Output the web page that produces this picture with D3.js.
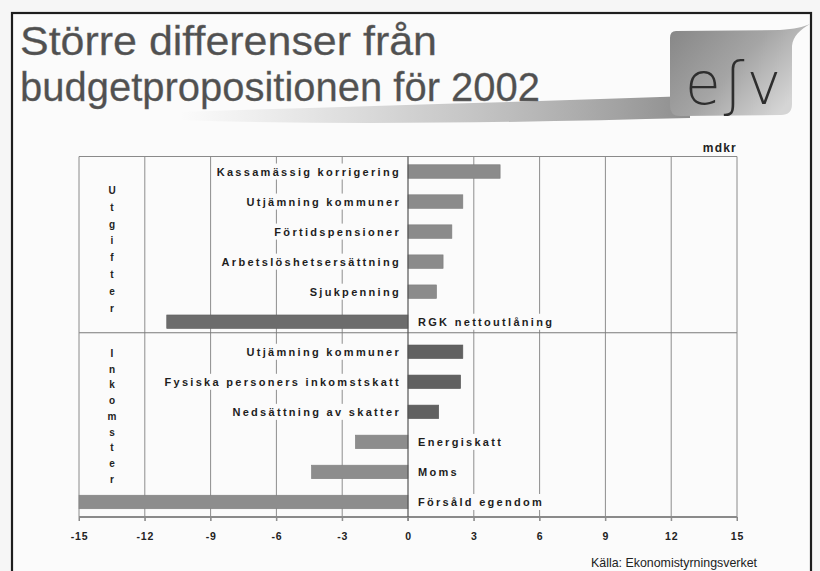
<!DOCTYPE html>
<html><head><meta charset="utf-8">
<script src="https://cdn.jsdelivr.net/npm/d3@7"></script>
<style>
html,body{margin:0;padding:0;background:#f6f6f6;}
svg{display:block;}
</style></head>
<body>
<script>
// ---- data ----
const categories = ["Kassamässig korrigering","Utjämning kommuner","Förtidspensioner","Arbetslöshetsersättning","Sjukpenning","RGK nettoutlåning","Utjämning kommuner","Fysiska personers inkomstskatt","Nedsättning av skatter","Energiskatt","Moms","Försåld egendom"];
const values = [4.2, 2.5, 2.0, 1.6, 1.3, -11.0, 2.5, 2.4, 1.4, -2.4, -4.4, -15];
const groupOf = ["Utgifter","Utgifter","Utgifter","Utgifter","Utgifter","Utgifter","Inkomster","Inkomster","Inkomster","Inkomster","Inkomster","Inkomster"];
const groupNames = ["Utgifter","Inkomster"];
const xTicks = [-15,-12,-9,-6,-3,0,3,6,9,12,15];
const titleLines = ["Större differenser från","budgetpropositionen för 2002"];
const unitLabel = "mdkr";
const sourceLabel = "Källa: Ekonomistyrningsverket";

const W = 820, H = 571;
const svg = d3.select("body").append("svg").attr("width", W).attr("height", H);
const defs = svg.append("defs");

// background & frame
svg.append("rect").attr("width", W).attr("height", H).attr("fill", "#f6f6f6");
svg.append("rect").attr("x", 12).attr("y", 13).attr("width", 799).attr("height", 600)
  .attr("fill", "#fbfbfb").attr("stroke", "#1e1e1e").attr("stroke-width", 2.2);

// title swoosh
const sw = defs.append("linearGradient").attr("id","swoosh").attr("x1","0").attr("x2","1").attr("y1","0").attr("y2","0");
sw.append("stop").attr("offset","0").attr("stop-color","#bdbdbd").attr("stop-opacity",0);
sw.append("stop").attr("offset","0.45").attr("stop-color","#b5b5b5").attr("stop-opacity",0.6);
sw.append("stop").attr("offset","1").attr("stop-color","#8e8e8e").attr("stop-opacity",1);
svg.append("path")
  .attr("d","M180,112 C350,106 530,102 690,96 L690,118 C530,122 350,126 180,120 Z")
  .attr("fill","url(#swoosh)");

// logo box
const lg = defs.append("linearGradient").attr("id","logo").attr("x1","0").attr("x2","1").attr("y1","0").attr("y2","0.6");
lg.append("stop").attr("offset","0").attr("stop-color","#858585");
lg.append("stop").attr("offset","0.55").attr("stop-color","#a5a5a5");
lg.append("stop").attr("offset","1").attr("stop-color","#d5d5d5");
svg.append("path")
  .attr("d","M676,31 L780,30 C795,29 803,27 810,24 C800,30 793,36 792,46 L792,104 Q792,115 781,115 L680,116 Q670,116 670,106 L670,38 Q670,31 676,31 Z")
  .attr("fill","url(#logo)");
svg.append("text").attr("x", 685).attr("y", 104)
  .attr("font-family","'DejaVu Sans', sans-serif").attr("font-weight", 200)
  .attr("font-size", 58).attr("fill","#2e2e2e")
  .attr("textLength", 96).attr("lengthAdjust","spacing")
  .text("eʃv");

// title
const titleWidths = [417, 520];
svg.append("g").selectAll("text").data(titleLines).join("text")
  .attr("x", 20).attr("y", (d,i) => 55 + i*46)
  .attr("font-family","'Liberation Sans', Arial, sans-serif")
  .attr("font-size", 40).attr("fill","#505050")
  .attr("stroke","#707070").attr("stroke-width",0.3)
  .attr("textLength", (d,i) => titleWidths[i]).attr("lengthAdjust","spacingAndGlyphs")
  .text(d => d);

// ---- chart ----
const x = d3.scaleLinear().domain([-15, 15]).range([79, 737]);
const idx = d3.range(categories.length);
const y = d3.scaleBand().domain(idx).range([156.5, 517]).paddingInner(0.55).paddingOuter(0.275);
const bh = y.bandwidth();

const chart = svg.append("g");

// vertical gridlines
chart.append("g").selectAll("line").data(xTicks.filter(t => t !== -15 && t !== 15 && t !== 0)).join("line")
  .attr("x1", d => x(d)).attr("x2", d => x(d))
  .attr("y1", 156.5).attr("y2", 521)
  .attr("stroke","#8d8d8d").attr("stroke-width",1);

// bars
function barColor(i){
  const g = groupOf[i], v = values[i];
  if (g === "Utgifter") return v < 0 ? "#6c6c6c" : "#8b8b8b";
  return v < 0 ? "#8d8d8d" : "#616161";
}
chart.append("g").selectAll("rect").data(idx).join("rect")
  .attr("x", i => x(Math.min(0, values[i])))
  .attr("width", i => Math.abs(x(values[i]) - x(0)))
  .attr("y", i => y(i)).attr("height", bh)
  .attr("fill", i => barColor(i))
  .attr("stroke", i => d3.color(barColor(i)).darker(0.3)).attr("stroke-width",0.6);

// frame lines of plot
const sepY = (y(5) + y(6) + bh) / 2 - 4;
chart.append("line").attr("x1", x(-15)).attr("x2", x(15)).attr("y1", 156.5).attr("y2", 156.5).attr("stroke","#8a8a8a");
chart.append("line").attr("x1", x(-15)).attr("x2", x(15)).attr("y1", sepY).attr("y2", sepY).attr("stroke","#7a7a7a");
chart.append("line").attr("x1", x(-15)).attr("x2", x(15)).attr("y1", 516.5).attr("y2", 516.5).attr("stroke","#8a8a8a");
chart.append("line").attr("x1", x(-15)).attr("x2", x(-15)).attr("y1", 156.5).attr("y2", 521).attr("stroke","#8a8a8a");
chart.append("line").attr("x1", x(15)).attr("x2", x(15)).attr("y1", 156.5).attr("y2", 521).attr("stroke","#8a8a8a");

// labels with white backgrounds
const lab = chart.append("g").selectAll("g").data(idx).join("g");
const labText = lab.append("text")
  .attr("x", i => values[i] >= 0 ? x(0) - 7 : x(0) + 10)
  .attr("y", i => y(i) + bh/2 + 4)
  .attr("text-anchor", i => values[i] >= 0 ? "end" : "start")
  .attr("font-family","'Liberation Sans', Arial, sans-serif")
  .attr("font-weight","bold").attr("font-size", 11).attr("letter-spacing", 2.3)
  .attr("fill","#1e1e1e")
  .text(i => categories[i]);
labText.each(function(i){
  const b = this.getBBox();
  d3.select(this.parentNode).insert("rect","text")
    .attr("x", b.x - 3).attr("y", b.y - 2).attr("width", b.width + 6).attr("height", b.height + 4)
    .attr("fill","#fbfbfb");
});

// zero line on top
chart.append("line").attr("x1", x(0)).attr("x2", x(0)).attr("y1", 156.5).attr("y2", 521)
  .attr("stroke","#555").attr("stroke-width",1.2);

// axis
const axis = d3.axisBottom(x).tickValues(xTicks).tickSize(4).tickPadding(12).tickFormat(d => String(d));
const ax = svg.append("g").attr("transform","translate(0,517)").call(axis);
ax.select(".domain").attr("stroke","#8a8a8a");
ax.selectAll(".tick line").attr("stroke","#8a8a8a");
ax.selectAll(".tick text").attr("font-family","'Liberation Sans', Arial, sans-serif")
  .attr("font-weight","bold").attr("font-size",10.5).attr("fill","#222").attr("letter-spacing",0.8);

// group letters
const groupStart = {Utgifter: 190, Inkomster: 353};
const groupStep = {Utgifter: 16.8, Inkomster: 15.7};
groupNames.forEach(g => {
  svg.append("g").selectAll("text").data(g.split("")).join("text")
    .attr("x", 112).attr("y", (d,i) => groupStart[g] + i*groupStep[g] + 4)
    .attr("text-anchor","middle")
    .attr("font-family","'Liberation Sans', Arial, sans-serif")
    .attr("font-weight","bold").attr("font-size",10).attr("fill","#222")
    .text(d => d);
});

// unit + source
svg.append("text").attr("x", 737).attr("y", 152).attr("text-anchor","end")
  .attr("font-family","'Liberation Sans', Arial, sans-serif").attr("font-weight","bold")
  .attr("font-size",12).attr("letter-spacing",1.2).attr("fill","#222").text(unitLabel);
svg.append("text").attr("x", 591).attr("y", 567)
  .attr("font-family","'Liberation Sans', Arial, sans-serif")
  .attr("font-size",12.4).attr("fill","#222").text(sourceLabel);
</script>
</body></html>
